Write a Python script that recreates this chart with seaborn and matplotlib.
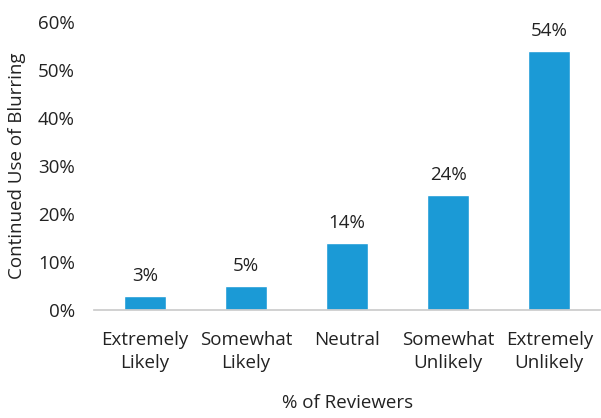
import matplotlib
matplotlib.use("Agg")
import matplotlib.pyplot as plt
import seaborn as sns
import pandas as pd
from matplotlib.ticker import FuncFormatter

categories = ["Extremely\nLikely", "Somewhat\nLikely", "Neutral", "Somewhat\nUnlikely", "Extremely\nUnlikely"]
values = [3, 5, 14, 24, 54]
yticks = [0, 10, 20, 30, 40, 50, 60]

sns.set_theme(style="white")
plt.rcParams['font.family'] = ['Open Sans', 'DejaVu Sans']

FS = 13.5
df = pd.DataFrame({"cat": categories, "val": values})
fig = plt.figure(figsize=(6.01, 4.18), dpi=100)
ax = fig.add_axes([0.157, 0.258, 0.841, 0.689])
sns.barplot(data=df, x="cat", y="val", color="#1B9AD6", saturation=1, width=0.42, ax=ax)
ax.set_ylim(0, 60)
ax.set_xlim(-0.5, 4.5)
ax.set_yticks(yticks)
ax.yaxis.set_major_formatter(FuncFormatter(lambda v, p: f"{int(v)}%"))
for i, v in enumerate(values):
    ax.annotate(f"{v}%", (i, v), xytext=(0, 8), textcoords="offset points",
                ha="center", va="bottom", fontsize=FS, color="#222222")
for s in ["top", "right", "left"]:
    ax.spines[s].set_visible(False)
ax.spines["bottom"].set_color("#cccccc")
ax.tick_params(axis="both", labelsize=FS, colors="#222222", length=0)
ax.tick_params(axis="y", pad=14)
ax.tick_params(axis="x", pad=15)
for lbl in ax.get_xticklabels():
    lbl.set_linespacing(1.35)
ax.set_ylabel("Continued Use of Blurring", fontsize=FS, color="#222222", labelpad=9)
ax.set_xlabel("% of Reviewers", fontsize=FS, color="#222222", labelpad=16)
fig.savefig("out.png", dpi=100)
